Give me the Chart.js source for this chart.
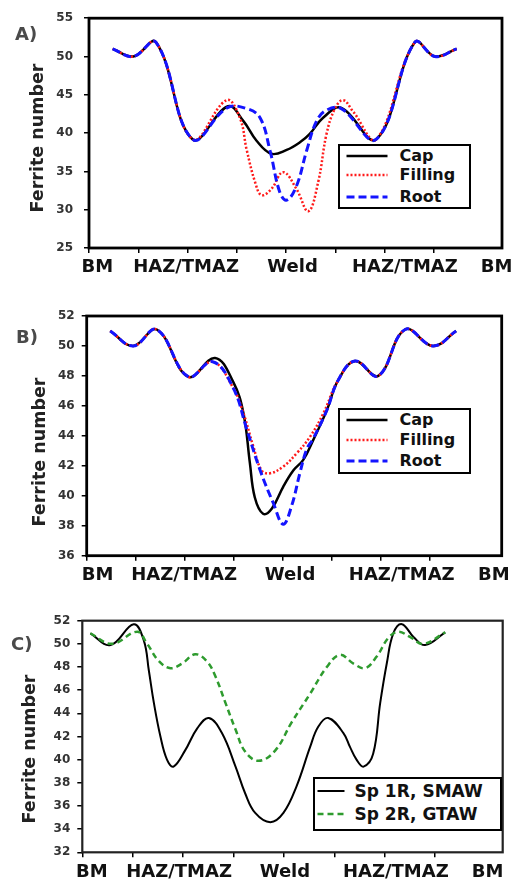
<!DOCTYPE html>
<html>
<head>
<meta charset="utf-8">
<script src="https://cdn.jsdelivr.net/npm/chart.js@4.4.0/dist/chart.umd.min.js"></script>
<style>
  html, body { margin: 0; padding: 0; background: #fff; }
  #page { position: relative; width: 524px; height: 885px; overflow: hidden;
          font-family: "DejaVu Sans", sans-serif; font-weight: bold; }
  .panel { position: absolute; left: 0; }
  .tag { position: absolute; font-size: 18px; line-height: 1; color: #4a4a4a; }
  .ytitle { position: absolute; font-size: 17.5px; line-height: 1; color: #222; white-space: nowrap;
            transform: translate(-50%, -50%) rotate(-90deg); }
  .legend { position: absolute; box-sizing: border-box; border: 2.5px solid #000; background: #fff; }
  .legend span { position: absolute; line-height: 1; color: #111; white-space: nowrap; transform: translateY(-50%); }
  .legend svg { position: absolute; left: 0; }
</style>
</head>
<body>
<div id="page">
  <canvas id="chartA" class="panel" width="524" height="290" style="top:0"></canvas>
  <canvas id="chartB" class="panel" width="524" height="300" style="top:290px"></canvas>
  <canvas id="chartC" class="panel" width="524" height="295" style="top:590px"></canvas>

  <div class="tag" style="left:15px;top:25px">A)</div>
  <div class="tag" style="left:16px;top:328px">B)</div>
  <div class="tag" style="left:11px;top:635px">C)</div>

  <div class="ytitle" style="left:38px;top:138px">Ferrite number</div>
  <div class="ytitle" style="left:40px;top:452px">Ferrite number</div>
  <div class="ytitle" style="left:30px;top:749px">Ferrite number</div>
</div>

<script>
// Etiquetas del eje x (iguales en los tres paneles)
const xLabels = ['BM', 'HAZ/TMAZ', 'Weld', 'HAZ/TMAZ', 'BM'];
const xMarks = [0, 1, 2, 3, 4, 5, 6, 7];

// Panel A
const aYTicks = [25, 30, 35, 40, 45, 50, 55];
const aLabelAt = [0.17, 1.97, 4.13, 6.41, 8.27];
const aCapX = [0.48, 0.9, 1.36, 2.1, 2.82, 3.13, 3.4, 3.7, 4.01, 4.28, 4.48, 4.75, 5.12, 5.83, 6.61, 7.02, 7.46];
const aCapY = [51.0, 50.0, 51.85, 39.2, 43.5, 41.6, 39.0, 37.3, 37.8, 38.8, 39.9, 42.0, 43.3, 39.2, 51.85, 50.0, 51.0];
const aFillX = [0.48, 0.9, 1.36, 2.1, 2.79, 3.06, 3.2, 3.37, 3.5, 3.7, 3.94, 4.21, 4.45, 4.65, 4.82, 4.99, 5.16, 5.36, 5.83, 6.61, 7.02, 7.46];
const aFillY = [51.0, 50.0, 51.85, 39.2, 44.3, 42.0, 37.8, 33.6, 31.9, 32.7, 34.9, 32.7, 29.8, 33.6, 39.9, 43.2, 44.3, 42.8, 39.2, 51.85, 50.0, 51.0];
const aRootX = [0.48, 0.9, 1.36, 2.1, 2.8, 3.2, 3.47, 3.67, 3.87, 4.01, 4.21, 4.42, 4.62, 4.82, 5.12, 5.83, 6.61, 7.02, 7.46];
const aRootY = [51.0, 50.0, 51.85, 39.2, 43.3, 43.2, 42.0, 37.8, 32.3, 31.25, 33.1, 37.8, 41.6, 43.0, 43.2, 39.2, 51.85, 50.0, 51.0];

// Panel B
const bYTicks = [36, 38, 40, 42, 44, 46, 48, 50, 52];
const bLabelAt = [0.22, 1.99, 4.15, 6.43, 8.31];
const bCapX = [0.48, 0.95, 1.43, 2.07, 2.62, 2.99, 3.2, 3.33, 3.43, 3.6, 3.78, 4.01, 4.22, 4.42, 4.62, 4.9, 5.13, 5.48, 5.95, 6.5, 7.07, 7.54];
const bCapY = [51.0, 50.0, 51.1, 47.95, 49.2, 47.6, 45.5, 42.2, 39.9, 38.8, 39.15, 40.6, 41.7, 42.4, 43.7, 45.7, 47.7, 49.0, 48.0, 51.1, 50.0, 51.0];
const bFillX = [0.48, 0.95, 1.43, 2.07, 2.57, 2.99, 3.2, 3.4, 3.57, 3.74, 4.01, 4.29, 4.56, 4.83, 5.13, 5.48, 5.95, 6.5, 7.07, 7.54];
const bFillY = [51.0, 50.0, 51.1, 47.95, 48.95, 47.2, 45.5, 43.3, 41.7, 41.5, 41.95, 42.85, 43.95, 45.5, 47.7, 49.0, 48.0, 51.1, 50.0, 51.0];
const bRootX = [0.48, 0.95, 1.43, 2.07, 2.57, 2.99, 3.27, 3.54, 3.81, 4.01, 4.18, 4.35, 4.49, 4.62, 4.9, 5.13, 5.48, 5.95, 6.5, 7.07, 7.54];
const bRootY = [51.0, 50.0, 51.1, 47.95, 48.95, 47.2, 44.4, 41.7, 39.5, 38.1, 39.3, 41.5, 43.1, 43.8, 45.7, 47.7, 49.0, 48.0, 51.1, 50.0, 51.0];

// Panel C
const cYTicks = [32, 34, 36, 38, 40, 42, 44, 46, 48, 50, 52];
const cLabelAt = [0.19, 1.92, 4.02, 6.22, 8.04];
const cSmawX = [0.16, 0.56, 1.02, 1.22, 1.32, 1.42, 1.55, 1.68, 1.81, 2.04, 2.28, 2.51, 2.77, 3.04, 3.23, 3.43, 3.73, 3.99, 4.25, 4.52, 4.68, 4.88, 5.18, 5.31, 5.44, 5.58, 5.77, 5.91, 6.04, 6.17, 6.34, 6.57, 6.8, 7.2];
const cSmawY = [50.9, 49.9, 51.7, 50.3, 47.7, 44.9, 42.0, 40.0, 39.4, 40.8, 42.7, 43.6, 42.3, 39.4, 37.1, 35.4, 34.6, 35.4, 37.7, 41.1, 42.85, 43.6, 42.3, 41.1, 40.0, 39.4, 40.5, 44.9, 48.3, 50.9, 51.7, 50.6, 49.9, 51.0];
const cGtawX = [0.16, 0.59, 1.09, 1.28, 1.52, 1.75, 1.98, 2.24, 2.47, 2.64, 2.84, 3.04, 3.23, 3.5, 3.83, 4.15, 4.52, 4.85, 5.11, 5.38, 5.61, 5.84, 6.07, 6.27, 6.5, 6.77, 7.2];
const cGtawY = [50.9, 50.0, 51.05, 50.05, 48.5, 47.9, 48.3, 49.1, 48.5, 47.2, 44.9, 42.6, 40.7, 39.9, 40.8, 43.2, 45.7, 48.0, 49.05, 48.3, 47.9, 48.9, 50.5, 51.05, 50.6, 50.0, 51.0];

// Marco negro alrededor del área de trazado
const framePlugin = {
    id: 'frame',
    afterDatasetsDraw(chart, args, opts) {
        const { ctx, chartArea: a } = chart;
        ctx.save();
        ctx.strokeStyle = opts.color || '#000';
        ctx.lineWidth = opts.width || 2.5;
        ctx.strokeRect(a.left, a.top, a.right - a.left, a.bottom - a.top);
        ctx.restore();
    }
};

function ferriteChart(id, frame, series, yTicks, labelAt, xMax, tickPad, frameStyle) {
    const canvas = document.getElementById(id);
    const W = canvas.width, H = canvas.height;
    return new Chart(canvas, {
        type: 'line',
        data: {
            datasets: series.map(s => ({
                label: s.label,
                data: s.x.map((x, i) => ({ x: x, y: s.y[i] })),
                borderColor: s.color,
                borderWidth: s.width,
                borderDash: s.dash,
                pointRadius: 0,
                fill: false,
                tension: 0.4,
                order: s.order
            }))
        },
        options: {
            responsive: false,
            animation: false,
            devicePixelRatio: 1,
            layout: { padding: { left: 0, top: frame.top, right: W - frame.right, bottom: 0 } },
            plugins: {
                legend: { display: false },
                tooltip: { enabled: false },
                frame: frameStyle
            },
            scales: {
                x: {
                    type: 'linear', min: 0, max: xMax, position: 'bottom', weight: 0,
                    afterBuildTicks: s => { s.ticks = xMarks.map(v => ({ value: v })); },
                    ticks: { display: false },
                    grid: { drawOnChartArea: false, tickLength: 5, color: '#000', lineWidth: 1.5 },
                    border: { display: false },
                    afterFit: s => { s.height = 6; }
                },
                xl: {
                    type: 'linear', axis: 'x', min: 0, max: xMax, position: 'bottom', weight: 1,
                    afterBuildTicks: s => { s.ticks = labelAt.map(v => ({ value: v })); },
                    ticks: {
                        callback: (v, i) => xLabels[i],
                        autoSkip: false, maxRotation: 0, padding: 3, color: '#111',
                        font: { family: 'DejaVu Sans', size: 18, weight: 'bold' }
                    },
                    grid: { display: false, drawTicks: false },
                    border: { display: false },
                    afterFit: s => { s.height = H - frame.bottom - 6; }
                },
                y: {
                    type: 'linear', min: yTicks[0], max: yTicks[yTicks.length - 1],
                    afterBuildTicks: s => { s.ticks = yTicks.map(v => ({ value: v })); },
                    ticks: {
                        padding: tickPad, color: '#333',
                        font: { family: 'DejaVu Sans', size: 12, weight: 'bold' }
                    },
                    grid: { drawOnChartArea: false, tickLength: 5, color: '#000', lineWidth: 1.5 },
                    border: { display: false },
                    afterFit: s => { s.width = frame.left; }
                }
            }
        },
        plugins: [framePlugin]
    });
}

// Leyenda dentro del gráfico (HTML sobre el canvas)
function addLegend(chart, box) {
    const el = document.createElement('div');
    el.className = 'legend';
    el.style.left = box.left + 'px';
    el.style.top = box.top + 'px';
    el.style.width = box.width + 'px';
    el.style.height = box.height + 'px';
    const b = 2.5;
    chart.data.datasets.forEach((ds, i) => {
        const y = box.rows[i] - b;
        const dash = (ds.borderDash || []).join(' ');
        el.insertAdjacentHTML('beforeend',
            `<svg width="${box.lineTo}" height="10" style="top:${y - 5}px">` +
            `<line x1="${box.lineFrom - b}" y1="5" x2="${box.lineTo - b}" y2="5" stroke="${ds.borderColor}" ` +
            `stroke-width="${ds.borderWidth}" stroke-dasharray="${dash}"/></svg>` +
            `<span style="left:${box.textX - b}px;top:${y}px;font-size:${box.fontSize}px">${ds.label}</span>`);
    });
    document.getElementById('page').appendChild(el);
}

const chartA = ferriteChart('chartA', { left: 89, right: 502, top: 10, bottom: 248 }, [
    { label: 'Cap', x: aCapX, y: aCapY, color: '#000000', width: 2.5, dash: [], order: 3 },
    { label: 'Filling', x: aFillX, y: aFillY, color: '#ff1a1a', width: 2.5, dash: [2, 2], order: 2 },
    { label: 'Root', x: aRootX, y: aRootY, color: '#1414ff', width: 3, dash: [8, 4], order: 1 }
], aYTicks, aLabelAt, 8.38, 11, { width: 2.8, color: '#000' });

const chartB = ferriteChart('chartB', { left: 86.7, right: 501.7, top: 26, bottom: 265.7 }, [
    { label: 'Cap', x: bCapX, y: bCapY, color: '#000000', width: 2.5, dash: [], order: 3 },
    { label: 'Filling', x: bFillX, y: bFillY, color: '#ff1a1a', width: 2.5, dash: [2, 2], order: 2 },
    { label: 'Root', x: bRootX, y: bRootY, color: '#1414ff', width: 3, dash: [8, 4], order: 1 }
], bYTicks, bLabelAt, 8.47, 7, { width: 2.8, color: '#000' });

const chartC = ferriteChart('chartC', { left: 82.3, right: 502.7, top: 30.7, bottom: 262.3 }, [
    { label: 'Sp 1R, SMAW', x: cSmawX, y: cSmawY, color: '#000000', width: 2, dash: [], order: 2 },
    { label: 'Sp 2R, GTAW', x: cGtawX, y: cGtawY, color: '#2e9b2e', width: 2.5, dash: [6, 4], order: 1 }
], cYTicks, cLabelAt, 8.34, 7, { width: 2.2, color: '#222' });

addLegend(chartA, { left: 338, top: 144, width: 133, height: 65, rows: [12.7, 31.7, 53.3], lineFrom: 9, lineTo: 50, textX: 62, fontSize: 16 });
addLegend(chartB, { left: 338, top: 408, width: 133, height: 66, rows: [12.7, 32.7, 53.7], lineFrom: 9, lineTo: 50, textX: 62, fontSize: 16 });
addLegend(chartC, { left: 313, top: 777, width: 189, height: 54, rows: [14.7, 37], lineFrom: 5, lineTo: 32, textX: 42, fontSize: 17 });
</script>
</body>
</html>
